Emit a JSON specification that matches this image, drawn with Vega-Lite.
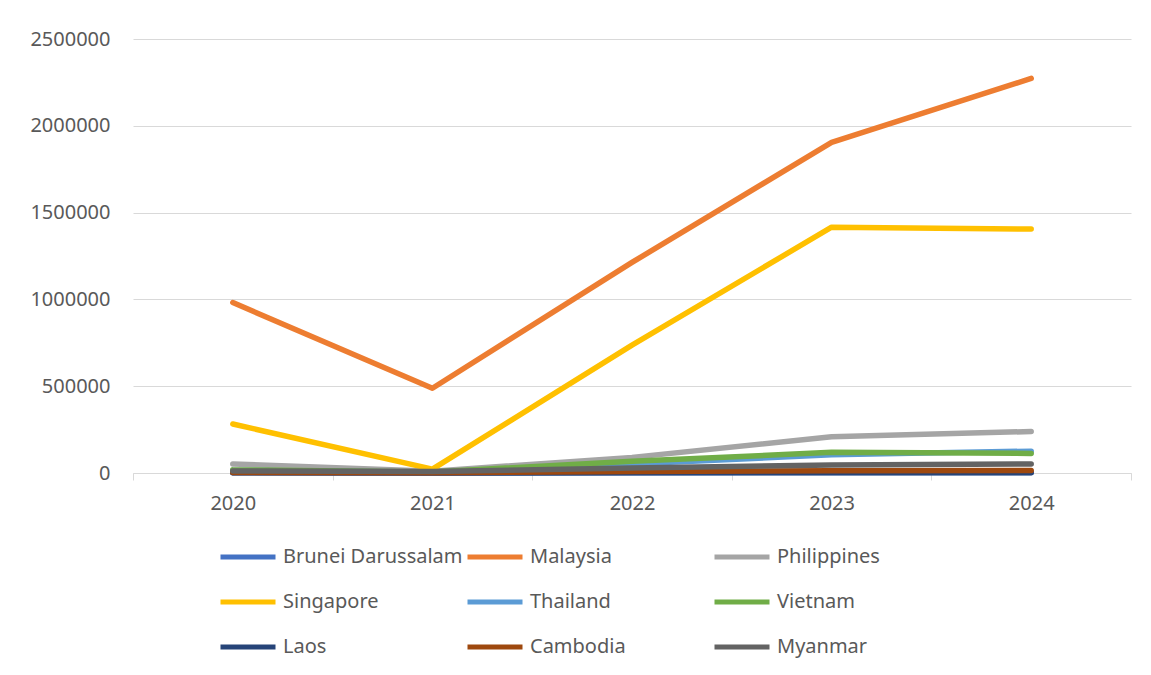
{
  "$schema": "https://vega.github.io/schema/vega-lite/v6.json",
  "autosize": {"type": "none"},
  "width": 998,
  "height": 434,
  "padding": {"left": 133, "top": 39, "right": 20, "bottom": 202},
  "background": "white",
  "config": {
    "view": {"stroke": null},
    "font": "Noto Sans"
  },
  "data": {
    "values": [
      {"country": "Brunei Darussalam", "year": "2020", "value": 2000},
      {"country": "Brunei Darussalam", "year": "2021", "value": 500},
      {"country": "Brunei Darussalam", "year": "2022", "value": 2000},
      {"country": "Brunei Darussalam", "year": "2023", "value": 3000},
      {"country": "Brunei Darussalam", "year": "2024", "value": 3000},
      {"country": "Malaysia", "year": "2020", "value": 982000},
      {"country": "Malaysia", "year": "2021", "value": 488000},
      {"country": "Malaysia", "year": "2022", "value": 1213000},
      {"country": "Malaysia", "year": "2023", "value": 1905000},
      {"country": "Malaysia", "year": "2024", "value": 2273000},
      {"country": "Philippines", "year": "2020", "value": 52000},
      {"country": "Philippines", "year": "2021", "value": 10000},
      {"country": "Philippines", "year": "2022", "value": 90000},
      {"country": "Philippines", "year": "2023", "value": 209000},
      {"country": "Philippines", "year": "2024", "value": 239000},
      {"country": "Singapore", "year": "2020", "value": 282000},
      {"country": "Singapore", "year": "2021", "value": 22000},
      {"country": "Singapore", "year": "2022", "value": 737000},
      {"country": "Singapore", "year": "2023", "value": 1416000},
      {"country": "Singapore", "year": "2024", "value": 1405000},
      {"country": "Thailand", "year": "2020", "value": 15000},
      {"country": "Thailand", "year": "2021", "value": 5000},
      {"country": "Thailand", "year": "2022", "value": 52000},
      {"country": "Thailand", "year": "2023", "value": 105000},
      {"country": "Thailand", "year": "2024", "value": 126000},
      {"country": "Vietnam", "year": "2020", "value": 18000},
      {"country": "Vietnam", "year": "2021", "value": 6000},
      {"country": "Vietnam", "year": "2022", "value": 67000},
      {"country": "Vietnam", "year": "2023", "value": 119000},
      {"country": "Vietnam", "year": "2024", "value": 113000},
      {"country": "Laos", "year": "2020", "value": 1000},
      {"country": "Laos", "year": "2021", "value": 500},
      {"country": "Laos", "year": "2022", "value": 1000},
      {"country": "Laos", "year": "2023", "value": 1500},
      {"country": "Laos", "year": "2024", "value": 2000},
      {"country": "Cambodia", "year": "2020", "value": 3000},
      {"country": "Cambodia", "year": "2021", "value": 1000},
      {"country": "Cambodia", "year": "2022", "value": 9000},
      {"country": "Cambodia", "year": "2023", "value": 13000},
      {"country": "Cambodia", "year": "2024", "value": 14000},
      {"country": "Myanmar", "year": "2020", "value": 12000},
      {"country": "Myanmar", "year": "2021", "value": 8000},
      {"country": "Myanmar", "year": "2022", "value": 29000},
      {"country": "Myanmar", "year": "2023", "value": 46000},
      {"country": "Myanmar", "year": "2024", "value": 52000}
    ]
  },
  "mark": {"type": "line", "strokeWidth": 5.5, "strokeCap": "round", "strokeJoin": "round"},
  "encoding": {
    "x": {
      "field": "year",
      "type": "ordinal",
      "scale": {"type": "band", "paddingInner": 0, "paddingOuter": 0},
      "axis": {
        "title": null,
        "labelAngle": 0,
        "tickBand": "extent",
        "grid": false,
        "domainColor": "#d9d9d9",
        "domainWidth": 1,
        "tickColor": "#d9d9d9",
        "tickSize": 7,
        "labelColor": "#595959",
        "labelFontSize": 20,
        "labelPadding": 13
      }
    },
    "y": {
      "field": "value",
      "type": "quantitative",
      "scale": {"domain": [0, 2500000], "nice": false},
      "axis": {
        "title": null,
        "values": [0, 500000, 1000000, 1500000, 2000000, 2500000],
        "format": "d",
        "domain": false,
        "ticks": false,
        "gridColor": "#d9d9d9",
        "gridWidth": 1,
        "labelColor": "#595959",
        "labelFontSize": 20,
        "labelPadding": 23
      }
    },
    "color": {
      "field": "country",
      "type": "nominal",
      "sort": null,
      "scale": {
        "domain": ["Brunei Darussalam", "Malaysia", "Philippines", "Singapore", "Thailand", "Vietnam", "Laos", "Cambodia", "Myanmar"],
        "range": ["#4472C4", "#ED7D31", "#A5A5A5", "#FFC000", "#5B9BD5", "#70AD47", "#264478", "#9E480E", "#636363"]
      },
      "legend": {
        "title": null,
        "orient": "none",
        "legendX": 85,
        "legendY": 488,
        "direction": "horizontal",
        "columns": 3,
        "gridAlign": "all",
        "columnPadding": -6,
        "rowPadding": 5,
        "symbolType": "stroke",
        "symbolSize": 3025,
        "symbolStrokeWidth": 5,
        "labelOffset": 5,
        "labelFontSize": 20,
        "labelColor": "#595959",
        "labelLimit": 300
      }
    }
  }
}
